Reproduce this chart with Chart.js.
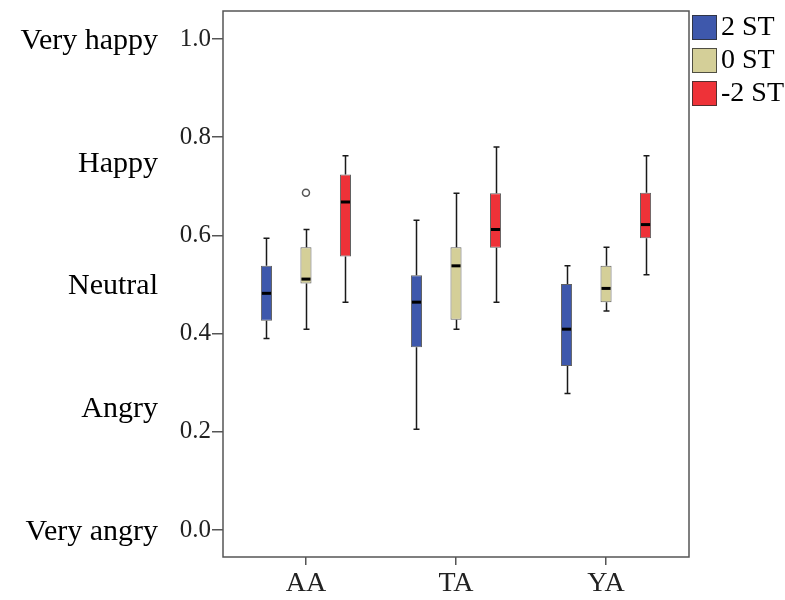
<!DOCTYPE html>
<html>
<head>
<meta charset="utf-8">
<script src="https://cdn.jsdelivr.net/npm/chart.js@4.4.1/dist/chart.umd.min.js"></script>
<style>
  html, body { margin: 0; padding: 0; background: #fff; }
</style>
</head>
<body>
<canvas id="chart" width="785" height="600"></canvas>
<script>
// Groups on the x axis and the three stimulus series
const groups = ['AA', 'TA', 'YA'];
const seriesNames = ['2 ST', '0 ST', '-2 ST'];
const seriesColors = ['#3E58AC', '#D4CF98', '#EE3238'];

// Box stats per group: [low whisker, Q1, median, Q3, high whisker]
const statsPlus2 = [
  [0.390, 0.426, 0.482, 0.538, 0.594],
  [0.205, 0.372, 0.464, 0.519, 0.631],
  [0.278, 0.334, 0.409, 0.501, 0.538]
];
const statsZero = [
  [0.409, 0.502, 0.511, 0.576, 0.612],
  [0.409, 0.428, 0.538, 0.576, 0.686],
  [0.446, 0.464, 0.492, 0.538, 0.576]
];
const statsMinus2 = [
  [0.464, 0.557, 0.668, 0.724, 0.762],
  [0.464, 0.575, 0.612, 0.686, 0.780],
  [0.520, 0.594, 0.622, 0.687, 0.762]
];
const allStats = [statsPlus2, statsZero, statsMinus2];

// Outlying points: series index, group index, value
const outliers = [
  { series: 1, group: 0, value: 0.687 }
];

const yTicks = [0, 0.2, 0.4, 0.6, 0.8, 1.0];
const moodValues = [0, 0.25, 0.5, 0.75, 1.0];
const moodLabels = ['Very angry', 'Angry', 'Neutral', 'Happy', 'Very happy'];

const serif = '"Liberation Serif", "Times New Roman", serif';

const datasets = allStats.map((stats, si) => ({
  label: seriesNames[si],
  data: stats.map((s, gi) => ({ x: gi, y: [s[1], s[3]] })),
  backgroundColor: seriesColors[si],
  borderColor: 'rgba(45,45,45,0.75)',
  borderWidth: 1,
  borderSkipped: false,
  categoryPercentage: 0.79,
  barPercentage: 0.28
}));

// Whiskers, medians and outliers on top of the floating bars
const boxPlotExtras = {
  id: 'boxPlotExtras',
  afterDatasetsDraw(chart) {
    const { ctx } = chart;
    const y = chart.scales.y;
    ctx.save();
    allStats.forEach((stats, si) => {
      const meta = chart.getDatasetMeta(si);
      meta.data.forEach((bar, gi) => {
        const [lo, q1, med, q3, hi] = stats[gi];
        const x = Math.round(bar.x) + 0.5;
        ctx.strokeStyle = '#1a1a1a';
        ctx.lineWidth = 1.5;
        ctx.beginPath();
        ctx.moveTo(x, y.getPixelForValue(q3));
        ctx.lineTo(x, y.getPixelForValue(hi));
        ctx.moveTo(x, y.getPixelForValue(q1));
        ctx.lineTo(x, y.getPixelForValue(lo));
        ctx.moveTo(x - 3, y.getPixelForValue(hi));
        ctx.lineTo(x + 3, y.getPixelForValue(hi));
        ctx.moveTo(x - 3, y.getPixelForValue(lo));
        ctx.lineTo(x + 3, y.getPixelForValue(lo));
        ctx.stroke();

        ctx.strokeStyle = '#000';
        ctx.lineWidth = 3;
        ctx.beginPath();
        ctx.moveTo(bar.x - bar.width / 2 + 1, y.getPixelForValue(med));
        ctx.lineTo(bar.x + bar.width / 2 - 1, y.getPixelForValue(med));
        ctx.stroke();
      });
    });

    outliers.forEach(o => {
      const bar = chart.getDatasetMeta(o.series).data[o.group];
      ctx.fillStyle = '#fff';
      ctx.strokeStyle = '#555';
      ctx.lineWidth = 1.5;
      ctx.beginPath();
      ctx.arc(bar.x, y.getPixelForValue(o.value), 3.5, 0, Math.PI * 2);
      ctx.fill();
      ctx.stroke();
    });
    ctx.restore();
  }
};

// Plot frame and the legend at the top right
const frameAndLegend = {
  id: 'frameAndLegend',
  afterDraw(chart) {
    const { ctx, chartArea: a } = chart;
    ctx.save();
    ctx.strokeStyle = '#555';
    ctx.lineWidth = 1.5;
    ctx.strokeRect(a.left, a.top, a.right - a.left, a.bottom - a.top);

    const lx = a.right + 3;
    chart.data.datasets.forEach((ds, i) => {
      const top = 15 + i * 33;
      ctx.fillStyle = ds.backgroundColor;
      ctx.fillRect(lx, top, 25, 25);
      ctx.strokeStyle = 'rgba(45,45,45,0.8)';
      ctx.lineWidth = 1;
      ctx.strokeRect(lx + 0.5, top + 0.5, 24, 24);
      ctx.fillStyle = '#000';
      ctx.font = '28px ' + serif;
      ctx.textBaseline = 'middle';
      ctx.textAlign = 'left';
      ctx.fillText(ds.label, lx + 29, top + 13);
    });
    ctx.restore();
  }
};

// Keep the plot box fixed: no extra room for labels hanging past the ends
const noLabelPadding = axis => {
  axis.paddingTop = 0;
  axis.paddingBottom = 0;
  axis.paddingLeft = 0;
  axis.paddingRight = 0;
};

new Chart(document.getElementById('chart'), {
  type: 'bar',
  data: { datasets },
  options: {
    responsive: false,
    animation: false,
    layout: { padding: { top: 11, right: 96, left: 0, bottom: 0 } },
    plugins: {
      legend: { display: false },
      tooltip: { enabled: false }
    },
    scales: {
      x: {
        type: 'linear',
        position: 'bottom',
        offset: false,
        min: -0.553,
        max: 2.553,
        afterBuildTicks: axis => { axis.ticks = groups.map((g, i) => ({ value: i })); },
        afterFit: axis => { axis.height = 43; noLabelPadding(axis); },
        ticks: {
          callback: v => groups[v],
          font: { family: serif, size: 28 },
          color: '#222',
          padding: 2,
          maxRotation: 0
        },
        grid: { offset: false, drawOnChartArea: false, drawTicks: true, tickLength: 8, color: '#555', lineWidth: 1.5 },
        border: { display: false }
      },
      y: {
        type: 'linear',
        position: 'left',
        weight: 0,
        min: -0.055,
        max: 1.057,
        afterBuildTicks: axis => { axis.ticks = yTicks.map(v => ({ value: v })); },
        afterFit: axis => { axis.width = 63; noLabelPadding(axis); },
        ticks: {
          callback: v => v.toFixed(1),
          font: { family: serif, size: 25 },
          color: '#222',
          padding: 1
        },
        grid: { drawOnChartArea: false, drawTicks: true, tickLength: 11, color: '#555', lineWidth: 1.5 },
        border: { display: false }
      },
      mood: {
        type: 'linear',
        position: 'left',
        weight: 1,
        min: -0.055,
        max: 1.057,
        afterBuildTicks: axis => { axis.ticks = moodValues.map(v => ({ value: v })); },
        afterFit: axis => { axis.width = 160; noLabelPadding(axis); },
        ticks: {
          callback: (v, i) => moodLabels[i],
          font: { family: serif, size: 30 },
          color: '#000',
          padding: 2,
          labelOffset: 2
        },
        grid: { display: false, drawTicks: false },
        border: { display: false }
      }
    }
  },
  plugins: [boxPlotExtras, frameAndLegend]
});
</script>
</body>
</html>
